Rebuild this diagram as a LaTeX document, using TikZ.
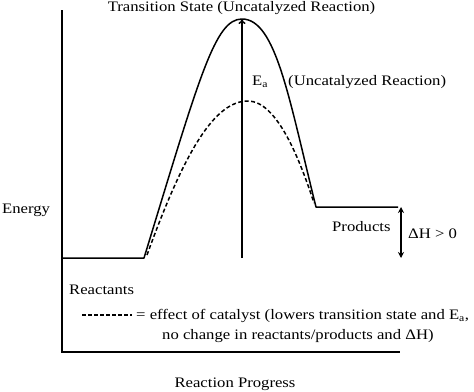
\documentclass[tikz,border=0pt]{standalone}
\usepackage{fontspec}
\setmainfont[FakeStretch=1.15]{Liberation Serif}
\usetikzlibrary{arrows.meta}
\tikzset{
  lbl/.style={inner sep=0pt, font=\fontsize{14.5}{16}\selectfont},
  curve/.style={line width=1.5pt},
  axis/.style={line width=1.8pt},
}
\begin{document}
\begin{tikzpicture}[x=1pt,y=-1pt]
\useasboundingbox (0,0) rectangle (474,391);
% axes
\coordinate (ytop) at (62,10);
\coordinate (orig) at (62,352);
\coordinate (xend) at (400,352);
\draw[axis] (ytop) -- (orig) -- (xend);
% key points
\coordinate (r0) at (62,258);
\coordinate (r1) at (144,258);
\coordinate (peak) at (242,19);
\coordinate (p0) at (316,207);
\coordinate (p1) at (398,207);
\coordinate (dpk) at (248,101);
\coordinate (d0) at (147,255);
\coordinate (d1) at (314,203);
% solid profile
\draw[curve, line join=round] (r0) -- (r1) .. controls (200,75) and (215,19) .. (peak)
  .. controls (276,19) and (289,99) .. (p0) -- (p1);
% dashed profile
\draw[curve, dashed, dash pattern=on 4pt off 2.5pt] (d0) .. controls (185,150) and (215,101) .. (dpk)
  .. controls (277,101) and (300,160) .. (d1);
% Ea arrow
\coordinate (eabot) at (242,258);
\draw[curve, -{To[length=5pt,width=7pt]}] (eabot) -- (peak);
% Delta H arrow
\coordinate (dht) at (401,207);
\coordinate (dhb) at (401,258);
\draw[curve, {Stealth[length=6pt,width=6pt]}-{Stealth[length=6pt,width=6pt]}] (dht) -- (dhb);
% labels
\node[lbl, anchor=base] (ts) at (241.5,11) {Transition State (Uncatalyzed Reaction)};
\node[lbl, anchor=base west] (ea) at (252,85) {E\textsubscript{a}};
\node[lbl, anchor=base west] (unc) at (288,85) {(Uncatalyzed Reaction)};
\node[lbl, anchor=base west] (en) at (2,213) {Energy};
\node[lbl, anchor=base west] (prod) at (332,231) {Products};
\node[lbl, anchor=base west] (dh) at (408,238) {ΔH > 0};
\node[lbl, anchor=base west] (reac) at (69,294) {Reactants};
\coordinate (lg0) at (82,315);
\coordinate (lg1) at (132,315);
\draw[line width=1.5pt, dash pattern=on 4pt off 2pt] (lg0) -- (lg1);
\node[lbl, anchor=base west] (leg1) at (136,319) {= effect of catalyst (lowers transition state and E\textsubscript{a},};
\node[lbl, anchor=base west] (leg2) at (162,339) {no change in reactants/products and ΔH)};
\node[lbl, anchor=base] (xl) at (235,387) {Reaction Progress};
\end{tikzpicture}
\end{document}
